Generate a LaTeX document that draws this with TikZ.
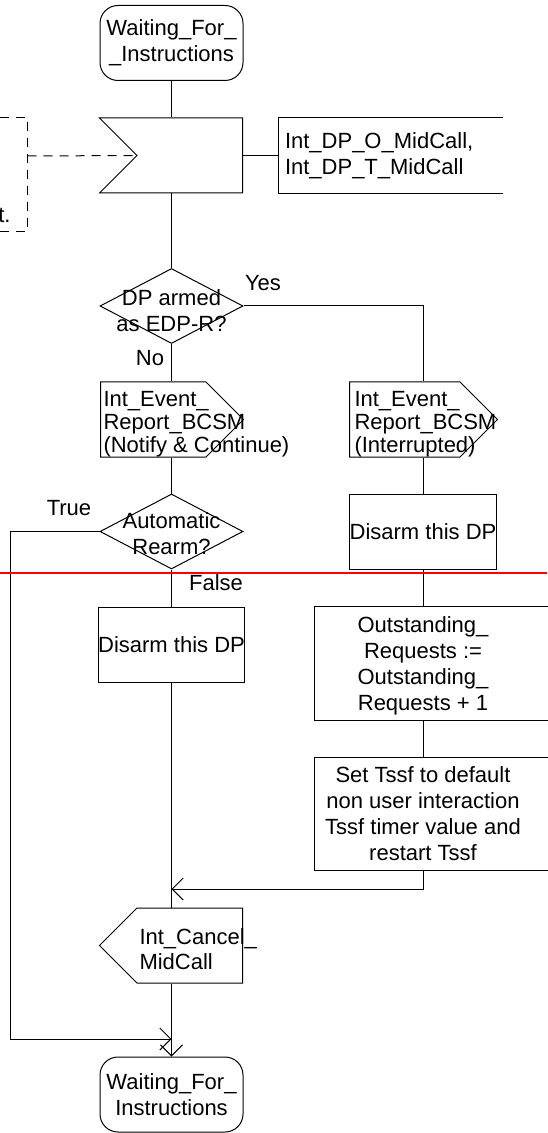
\documentclass[tikz,border=0pt]{standalone}
\usepackage{fontspec}
\setmainfont{Liberation Sans}
\usetikzlibrary{shapes.geometric,shapes.symbols,positioning,arrows.meta}

\begin{document}
\begin{tikzpicture}[
		x=0.5pt, y=-0.5pt,
		every node/.style={
		  font=\fontsize{11}{13}\selectfont
		  },
		every path/.style={
		  line width=0.5pt
		  },
		state/.style={
		  draw,
		  rectangle,
		  rounded corners=9pt,
		  minimum width=71.5pt,
		  minimum height=37.5pt,
		  inner sep=0pt,
		  align=center
		  },
		insig/.style={
		  draw,
		  signal,
		  signal from=west,
		  signal to=nowhere,
		  minimum width=71.5pt,
		  minimum height=37.5pt,
		  inner sep=0pt
		  },
		outsig/.style={
		  draw,
		  signal,
		  signal to=#1,
		  minimum width=71.5pt,
		  minimum height=37.5pt,
		  inner sep=0pt
		  },
		decision/.style={
		  draw,
		  diamond,
		  minimum width=71.5pt,
		  minimum height=37.5pt,
		  inner sep=0pt
		  },
		task/.style={
		  draw,
		  rectangle,
		  minimum width=72pt,
		  minimum height=37.5pt,
		  inner sep=0pt,
		  align=center
		  },
		openbox/.style={
		  draw=none,
		  rectangle,
		  minimum width=108pt,
		  inner sep=0pt,
		  align=center
		  },
		txt/.style={
		  inner sep=0pt,
		  align=center
		  },
		ltxt/.style={
		  inner sep=0pt,
		  anchor=west,
		  align=left,
		  font=\fontsize{11}{11.5}\selectfont
		  },
		comment/.style={
		  dashed,
		  dash pattern=on 4.5pt off 3.5pt
		  },
		>={Straight Barb[length=5.5pt,width=11pt]}
		]
		\useasboundingbox (0,0) rectangle (547,1133);
		% main column
		\node[state] (ws1) at (171.5,43) {Waiting\_For\_\\\_Instructions};
		\node[insig, anchor=east] (in1) at (243,155.5) {};
		\node[openbox, minimum width=111.5pt, minimum height=37.5pt, text width=105.5pt, inner sep=3pt, align=left] (dp) at (390.5,155.5) {Int\_DP\_O\_MidCall,\\Int\_DP\_T\_MidCall};
		\node[decision] (dec1) at (171.5,306) {};
		\node[txt] (dec1t) at (171.5,311) {DP armed\\as EDP-R?};
		\node[txt] (yes) at (263,283) {Yes};
		\node[txt] (no) at (150,358) {No};
		\node[outsig=east, anchor=west] (out1) at (100,419.5) {};
		\node[ltxt] (out1t) at (103,424) {Int\_Event\_\\Report\_BCSM\\(Notify \& Continue)};
		\node[outsig=east, minimum width=74pt, anchor=west] (out2) at (349,419.5) {};
		\node[ltxt] (out2t) at (354,424) {Int\_Event\_\\Report\_BCSM\\(Interrupted)};
		\node[decision] (dec2) at (171.5,531.5) {};
		\node[txt] (dec2t) at (171.5,534) {Automatic\\Rearm?};
		\node[txt] (true) at (69,508) {True};
		\node[txt] (false) at (216,583) {False};
		\node[task] (dis2) at (423,531.5) {Disarm this DP};
		\node[task, minimum width=71.5pt] (dis1) at (171.5,644.5) {Disarm this DP};
		\node[openbox, minimum height=56.5pt, text depth=-3pt] (outs) at (423,663.5) {Outstanding\_\\Requests :=\\Outstanding\_\\Requests + 1};
		\node[openbox, minimum height=56pt, text depth=-3pt] (tssf) at (423,814) {Set Tssf to default\\non user interaction\\Tssf timer value and\\restart Tssf};
		\node[outsig=west, anchor=east] (can) at (243,945.5) {};
		\node[ltxt, font=\fontsize{11}{12.5}\selectfont] (cant) at (139,949) {Int\_Cancel\_\\MidCall};
		\node[state] (ws2) at (171.5,1094.5) {Waiting\_For\_\\Instructions};
		% comment
		\node[txt, anchor=east] (cmt) at (11,215) {t.};
		\coordinate (cmtop) at (0,118);
		\coordinate (cmbot) at (0,232);
		\coordinate (cmlink) at (27.5,156);
		\draw[comment] (cmtop) -- (cmtop -| cmlink) -- (cmbot -| cmlink) -- (cmbot);
		\draw[comment] (cmlink) -- (in1.west);
		% open boxes
		\draw (dp.north east) -- (dp.north west) -- (dp.south west) -- (dp.south east);
		\foreach \n in {outs,tssf}
		  \draw ([xshift=20pt]\n.north east) -- (\n.north west) -- (\n.south west) -- ([xshift=20pt]\n.south east);
		% connections
		\coordinate (join1) at (171.5,889);
		\coordinate (loop) at (10,1039);
		\coordinate (join2) at (171.5,1039);
		\draw (ws1) -- (ws1.south |- in1.north);
		\draw (in1.east) -- (dp.west);
		\draw (dec1.north |- in1.south) -- (dec1.north);
		\draw (dec1.south) -- (dec1.south |- out1.north);
		\draw (dec1.east) -| (dis2.north |- out2.north);
		\draw (dec2.north |- out1.south) -- (dec2.north);
		\draw (dis2.north |- out2.south) -- (dis2.north);
		\draw (dec2.south) -- (dis1.north);
		\draw (dis2.south) -- (outs.north);
		\draw (outs.south) -- (tssf.north);
		\draw (dis1.south) -- (dis1.south |- can.north);
		\draw[->] (tssf.south) |- (join1);
		\draw[->] (ws2.north |- can.south) -- (ws2.north);
		\draw[->] (dec2.west) -| (loop) -- (join2);
		% page cut
		\coordinate (cutl) at (0,573);
		\coordinate (cutr) at (547,573);
		\draw[red, line width=1pt] (cutl) -- (cutr);
\end{tikzpicture}
\end{document}
